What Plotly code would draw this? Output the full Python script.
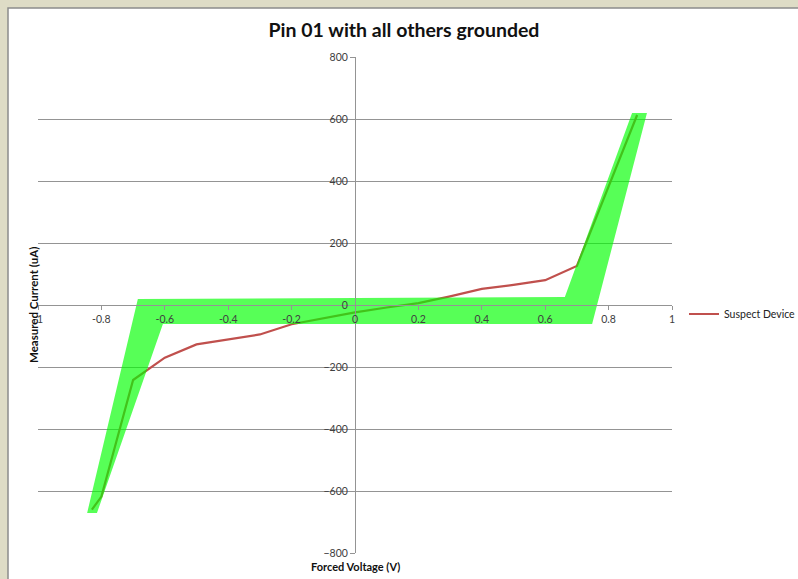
import plotly.graph_objects as go

# Measured I-V sweep of the suspect device
voltage = [-0.83, -0.80, -0.70, -0.60, -0.50, -0.30, -0.20, -0.10, 0.0, 0.10, 0.20, 0.30, 0.40, 0.50, 0.60, 0.70, 0.89]
current = [-660, -618, -242, -170, -127, -95, -62, -42, -24, -8, 6, 28, 52, 65, 80, 126, 613]

# Highlighted expected-behaviour envelope (voltage, current vertices)
band_v = [-0.685, 0.662, 0.874, 0.921, 0.748, -0.606, -0.814, -0.845, -0.685]
band_i = [19, 26, 619, 619, -61, -61, -671, -671, 19]

x_ticks = [-1, -0.8, -0.6, -0.4, -0.2, 0, 0.2, 0.4, 0.6, 0.8, 1]
x_tick_text = ["-1", "-0.8", "-0.6", "-0.4", "-0.2", "0", "0.2", "0.4", "0.6", "0.8", "1"]
y_ticks = [-800, -600, -400, -200, 0, 200, 400, 600, 800]

FONT = "Lato, 'Open Sans', sans-serif"
GRID = "#949494"

fig = go.Figure()

fig.add_trace(go.Scatter(
    x=voltage, y=current, mode="lines", name="Suspect Device",
    line=dict(color="#c0504d", width=2.2),
))

fig.add_trace(go.Scatter(
    x=band_v, y=band_i, mode="lines", fill="toself",
    fillcolor="rgba(0,255,0,0.66)", line=dict(width=0, color="rgba(0,255,0,0)"),
    showlegend=False, hoverinfo="skip",
))

W, H = 798, 579
L, R, T, B = 38, 126, 57, 26
pw, ph = W - L - R, H - T - B


def px_x(p):
    return (p - L) / pw


def px_y(p):
    return 1 - (p - T) / ph


shapes = [
    # surrounding page strip and the chart frame
    dict(type="rect", xref="paper", yref="paper", layer="below",
         x0=px_x(8), x1=px_x(W + 5), y0=px_y(H + 5), y1=px_y(8),
         fillcolor="white", line=dict(color="#8c8c8c", width=1.5)),
]

fig.update_layout(
    width=W, height=H,
    margin=dict(l=L, r=R, t=T, b=B, autoexpand=False),
    paper_bgcolor="#dedcc6",
    plot_bgcolor="white",
    shapes=shapes,
    title=dict(text="<b>Pin 01 with all others grounded</b>", x=404 / W, xref="container",
               xanchor="center", y=1 - 30 / H, yref="container", yanchor="middle",
               font=dict(family=FONT, size=19.5, color="#111111")),
    font=dict(family=FONT, size=10, color="#404040"),
    showlegend=True,
    legend=dict(x=px_x(684), y=px_y(314), xanchor="left", yanchor="middle",
                bgcolor="rgba(0,0,0,0)", font=dict(family=FONT, size=10.5, color="#222222"),
                itemwidth=30),
    xaxis=dict(range=[-1, 1], tickvals=x_ticks, ticktext=x_tick_text,
               showgrid=False, zeroline=False, showline=True, linecolor=GRID, linewidth=1,
               ticks="outside", ticklen=4, tickcolor=GRID,
               anchor="free", position=0.5, tickfont=dict(size=10.5, color="#404040")),
    yaxis=dict(range=[-800, 800], tickvals=y_ticks, showgrid=True, gridcolor=GRID, gridwidth=1,
               zeroline=False, showline=True, linecolor=GRID, linewidth=1,
               ticks="outside", ticklen=5, tickcolor=GRID,
               anchor="free", position=0.5, tickfont=dict(size=10.5, color="#404040")),
    annotations=[
        dict(text="<b>Forced Voltage (V)</b>", xref="paper", yref="paper",
             x=0.5, y=px_y(566), xanchor="center", yanchor="middle", showarrow=False,
             font=dict(family=FONT, size=11, color="#111111")),
        dict(text="<b>Measured Current (uA)</b>", xref="paper", yref="paper",
             x=px_x(33), y=px_y(305), xanchor="center", yanchor="middle", showarrow=False,
             textangle=-90, font=dict(family=FONT, size=11.5, color="#111111")),
    ],
)

fig.write_html("out.html")
